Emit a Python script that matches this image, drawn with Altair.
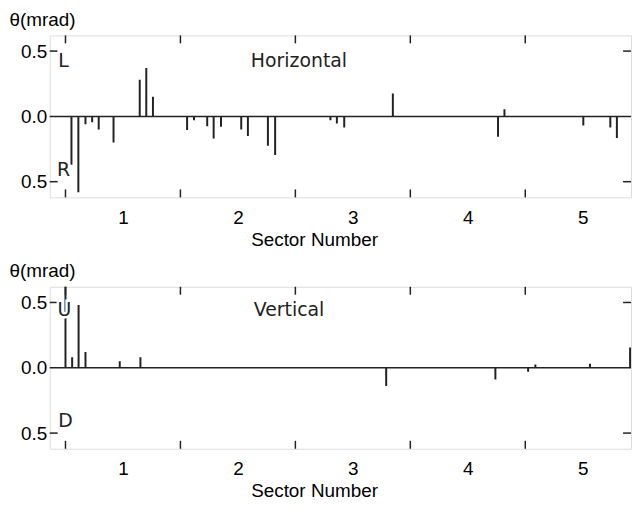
import altair as alt
import pandas as pd

# Horizontal panel: sector position and deflection (mrad)
h_x = [0.552, 0.612, 0.674, 0.732, 0.789, 0.918, 1.146, 1.203, 1.261,
       1.558, 1.618, 1.733, 1.789, 1.853, 2.029, 2.087, 2.261, 2.324,
       2.805, 2.861, 2.925, 3.348, 4.263, 4.319, 5.005, 5.240, 5.297]
h_val = [-0.37, -0.58, -0.06, -0.045, -0.10, -0.20, 0.28, 0.37, 0.15,
         -0.105, -0.03, -0.075, -0.17, -0.08, -0.10, -0.15, -0.225, -0.295,
         -0.03, -0.055, -0.085, 0.175, -0.155, 0.055, -0.07, -0.085, -0.165]

# Vertical panel
v_x = [0.500, 0.558, 0.614, 0.674, 0.972, 1.152, 3.290, 4.240, 4.525, 4.588, 5.063, 5.412]
v_val = [0.65, 0.08, 0.48, 0.12, 0.05, 0.08, -0.14, -0.09, -0.03, 0.025, 0.03, 0.155]

sector_labels = [1, 2, 3, 4, 5]
boundary_ticks = [0.5, 1.5, 2.5, 3.5, 4.5]
y_label_values = [-0.5, 0.0, 0.5]
y_inner_ticks = [-0.5, 0.5]

XDOM = [0.363, 5.42]
YDOM = [-0.62, 0.62]
W, H = 585, 163
FONT = "DejaVu Sans"
INK = "#222222"
FS = 19


def panel(xs, vals, name, name_pos, letters):
    xscale = alt.Scale(domain=XDOM, nice=False, zero=False)
    yscale = alt.Scale(domain=YDOM, nice=False, zero=False)
    xaxis = alt.Axis(values=sector_labels, format="d", ticks=False, domain=False,
                     grid=False, labelPadding=11, labelFontSize=FS,
                     title="Sector Number", titleFontSize=FS, titleFontWeight="normal",
                     titleX=266, titleAlign="center", titlePadding=3)
    yaxis = alt.Axis(values=y_label_values,
                     labelExpr="format(abs(datum.value), '.1f')",
                     ticks=False, domain=False, grid=False, labelPadding=3,
                     labelFontSize=FS, title="θ(mrad)", titleFontSize=FS,
                     titleFontWeight="normal", titleAngle=0, titleAlign="left",
                     titleBaseline="middle", titleX=-41, titleY=-16)

    bars_df = pd.DataFrame({"x": xs, "v": vals, "z": [0.0] * len(xs)})
    bars = alt.Chart(bars_df).mark_rule(strokeWidth=2, color=INK, clip=True).encode(
        x=alt.X("x:Q", scale=xscale, axis=xaxis),
        y=alt.Y("v:Q", scale=yscale, axis=yaxis),
        y2="z:Q",
    )
    zero = alt.Chart(pd.DataFrame({"v": [0.0]})).mark_rule(
        strokeWidth=1.5, color=INK).encode(
        y=alt.Y("v:Q", scale=yscale, axis=yaxis))

    xt_df = pd.DataFrame({"x": boundary_ticks})
    top_ticks = alt.Chart(xt_df).mark_rule(strokeWidth=1.5, color=INK).encode(
        x=alt.X("x:Q", scale=xscale, axis=xaxis), y=alt.value(0), y2=alt.value(8))
    bot_ticks = alt.Chart(xt_df).mark_rule(strokeWidth=1.5, color=INK).encode(
        x=alt.X("x:Q", scale=xscale, axis=xaxis), y=alt.value(H - 8), y2=alt.value(H))

    yt_df = pd.DataFrame({"v": y_inner_ticks})
    left_ticks = alt.Chart(yt_df).mark_rule(strokeWidth=1.5, color=INK).encode(
        y=alt.Y("v:Q", scale=yscale, axis=yaxis), x=alt.value(0), x2=alt.value(8))
    right_ticks = alt.Chart(yt_df).mark_rule(strokeWidth=1.5, color=INK).encode(
        y=alt.Y("v:Q", scale=yscale, axis=yaxis), x=alt.value(W - 8), x2=alt.value(W))

    name_df = pd.DataFrame({"x": [name_pos[0]], "v": [name_pos[1]], "t": [name]})
    name_text = alt.Chart(name_df).mark_text(
        align="left", baseline="middle", font=FONT, fontSize=FS, color=INK).encode(
        x=alt.X("x:Q", scale=xscale, axis=xaxis),
        y=alt.Y("v:Q", scale=yscale, axis=yaxis), text="t:N")

    let_df = pd.DataFrame({"x": [p[0] for p in letters],
                           "v": [p[1] for p in letters],
                           "t": [p[2] for p in letters]})
    halo = alt.Chart(let_df).mark_text(
        align="center", baseline="middle", font=FONT, fontSize=FS,
        color="white", stroke="white", strokeWidth=5).encode(
        x=alt.X("x:Q", scale=xscale, axis=xaxis),
        y=alt.Y("v:Q", scale=yscale, axis=yaxis), text="t:N")
    let_text = alt.Chart(let_df).mark_text(
        align="center", baseline="middle", font=FONT, fontSize=FS, color=INK).encode(
        x=alt.X("x:Q", scale=xscale, axis=xaxis),
        y=alt.Y("v:Q", scale=yscale, axis=yaxis), text="t:N")

    return alt.layer(zero, bars, top_ticks, bot_ticks, left_ticks, right_ticks,
                     name_text, halo, let_text).properties(width=W, height=H)


top = panel(h_x, h_val, "Horizontal", (2.112, 0.42),
            [(0.483, 0.42, "L"), (0.483, -0.41, "R")])
bottom = panel(v_x, v_val, "Vertical", (2.138, 0.44),
               [(0.49, 0.44, "U"), (0.50, -0.41, "D")])

chart = alt.vconcat(top, bottom, spacing=90, bounds="flush").properties(
    padding={"left": 0, "top": 0, "right": 0, "bottom": 0}
).configure_view(stroke=INK, strokeWidth=1.5).configure_axis(
    labelFont=FONT, titleFont=FONT, labelColor=INK, titleColor=INK
).configure(background="white")

chart.save("out.html", embed_options={"renderer": "svg", "actions": False})
